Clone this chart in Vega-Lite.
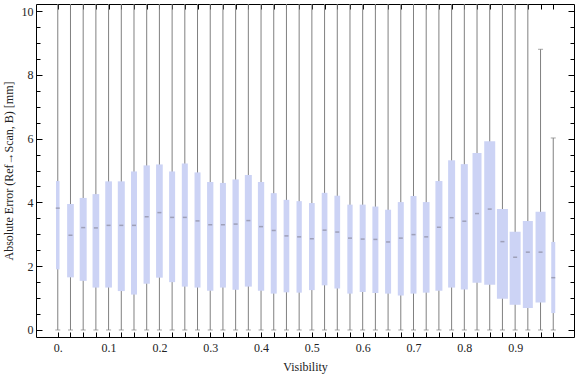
{
  "$schema": "https://vega.github.io/schema/vega-lite/v6.json",
  "width": 538,
  "height": 333,
  "autosize": {"type": "none"},
  "padding": {"left": 36, "top": 4, "right": 2, "bottom": 40},
  "config": {
    "view": {"stroke": "black", "strokeWidth": 1},
    "axis": {
      "domain": false, "grid": false,
      "labelFont": "Liberation Serif", "titleFont": "Liberation Serif",
      "labelFontSize": 12, "titleFontSize": 12, "titleFontWeight": "normal",
      "labelColor": "#222222", "titleColor": "#222222", "tickColor": "black",
      "labelOverlap": false, "labelFlush": false
    }
  },
  "data": {"values": [
    {"v": 0.000, "q1": 1.90, "med": 3.82, "q3": 4.67, "lo": 0, "hi": 11, "n": 35},
    {"v": 0.025, "q1": 1.65, "med": 2.97, "q3": 3.95, "lo": 0, "hi": 11, "n": 67},
    {"v": 0.050, "q1": 1.54, "med": 3.21, "q3": 4.14, "lo": 0, "hi": 11, "n": 70},
    {"v": 0.075, "q1": 1.33, "med": 3.20, "q3": 4.26, "lo": 0, "hi": 11, "n": 67},
    {"v": 0.100, "q1": 1.33, "med": 3.28, "q3": 4.66, "lo": 0, "hi": 11, "n": 67},
    {"v": 0.125, "q1": 1.22, "med": 3.28, "q3": 4.66, "lo": 0, "hi": 11, "n": 70},
    {"v": 0.150, "q1": 1.11, "med": 3.28, "q3": 4.97, "lo": 0, "hi": 11, "n": 60},
    {"v": 0.175, "q1": 1.45, "med": 3.55, "q3": 5.16, "lo": 0, "hi": 11, "n": 63},
    {"v": 0.200, "q1": 1.64, "med": 3.68, "q3": 5.19, "lo": 0, "hi": 11, "n": 67},
    {"v": 0.225, "q1": 1.50, "med": 3.53, "q3": 4.97, "lo": 0, "hi": 11, "n": 60},
    {"v": 0.250, "q1": 1.36, "med": 3.53, "q3": 5.22, "lo": 0, "hi": 11, "n": 60},
    {"v": 0.275, "q1": 1.33, "med": 3.42, "q3": 4.94, "lo": 0, "hi": 11, "n": 60},
    {"v": 0.300, "q1": 1.23, "med": 3.30, "q3": 4.64, "lo": 0, "hi": 11, "n": 63},
    {"v": 0.325, "q1": 1.33, "med": 3.30, "q3": 4.61, "lo": 0, "hi": 11, "n": 60},
    {"v": 0.350, "q1": 1.26, "med": 3.32, "q3": 4.72, "lo": 0, "hi": 11, "n": 63},
    {"v": 0.375, "q1": 1.36, "med": 3.43, "q3": 4.86, "lo": 0, "hi": 11, "n": 70},
    {"v": 0.400, "q1": 1.23, "med": 3.24, "q3": 4.64, "lo": 0, "hi": 11, "n": 63},
    {"v": 0.425, "q1": 1.14, "med": 3.12, "q3": 4.29, "lo": 0, "hi": 11, "n": 60},
    {"v": 0.450, "q1": 1.18, "med": 2.95, "q3": 4.08, "lo": 0, "hi": 11, "n": 57},
    {"v": 0.475, "q1": 1.17, "med": 2.92, "q3": 4.04, "lo": 0, "hi": 11, "n": 53},
    {"v": 0.500, "q1": 1.25, "med": 2.86, "q3": 3.98, "lo": 0, "hi": 11, "n": 57},
    {"v": 0.525, "q1": 1.40, "med": 3.13, "q3": 4.30, "lo": 0, "hi": 11, "n": 57},
    {"v": 0.550, "q1": 1.30, "med": 3.07, "q3": 4.21, "lo": 0, "hi": 11, "n": 57},
    {"v": 0.575, "q1": 1.14, "med": 2.88, "q3": 3.93, "lo": 0, "hi": 11, "n": 53},
    {"v": 0.600, "q1": 1.19, "med": 2.85, "q3": 3.93, "lo": 0, "hi": 11, "n": 60},
    {"v": 0.625, "q1": 1.16, "med": 2.84, "q3": 3.87, "lo": 0, "hi": 11, "n": 60},
    {"v": 0.650, "q1": 1.14, "med": 2.76, "q3": 3.77, "lo": 0, "hi": 11, "n": 60},
    {"v": 0.675, "q1": 1.08, "med": 2.88, "q3": 4.01, "lo": 0, "hi": 11, "n": 60},
    {"v": 0.700, "q1": 1.14, "med": 2.99, "q3": 4.20, "lo": 0, "hi": 11, "n": 60},
    {"v": 0.725, "q1": 1.17, "med": 2.92, "q3": 4.01, "lo": 0, "hi": 11, "n": 67},
    {"v": 0.750, "q1": 1.23, "med": 3.22, "q3": 4.67, "lo": 0, "hi": 11, "n": 70},
    {"v": 0.775, "q1": 1.33, "med": 3.52, "q3": 5.32, "lo": 0, "hi": 11, "n": 70},
    {"v": 0.800, "q1": 1.27, "med": 3.41, "q3": 5.20, "lo": 0, "hi": 11, "n": 70},
    {"v": 0.825, "q1": 1.48, "med": 3.65, "q3": 5.55, "lo": 0, "hi": 11, "n": 90},
    {"v": 0.850, "q1": 1.42, "med": 3.79, "q3": 5.92, "lo": 0, "hi": 11, "n": 110},
    {"v": 0.875, "q1": 0.98, "med": 2.77, "q3": 3.79, "lo": 0, "hi": 11, "n": 110},
    {"v": 0.900, "q1": 0.79, "med": 2.28, "q3": 3.08, "lo": 0, "hi": 11, "n": 110},
    {"v": 0.925, "q1": 0.69, "med": 2.44, "q3": 3.42, "lo": 0, "hi": 11, "n": 100},
    {"v": 0.950, "q1": 0.86, "med": 2.44, "q3": 3.71, "lo": 0, "hi": 8.8, "n": 100},
    {"v": 0.975, "q1": 0.53, "med": 1.64, "q3": 2.76, "lo": 0, "hi": 6.02, "n": 40}
  ]},
  "layer": [
    {
      "mark": {"type": "rule", "color": "#808080", "strokeWidth": 1, "clip": true},
      "encoding": {
        "x": {"field": "v", "type": "quantitative",
          "scale": {"domain": [-0.033, 1.006], "nice": false, "zero": false},
          "axis": {"orient": "bottom", "title": "Visibility", "tickSize": -5, "labelPadding": 10, "titlePadding": 8,
            "values": [0,0.025,0.05,0.075,0.1,0.125,0.15,0.175,0.2,0.225,0.25,0.275,0.3,0.325,0.35,0.375,0.4,0.425,0.45,0.475,0.5,0.525,0.55,0.575,0.6,0.625,0.65,0.675,0.7,0.725,0.75,0.775,0.8,0.825,0.85,0.875,0.9,0.925,0.95,0.975],
            "labelExpr": "abs(datum.value*10 - round(datum.value*10)) < 0.001 ? (datum.value == 0 ? '0.' : format(datum.value, '.1f')) : ''"}},
        "y": {"field": "lo", "type": "quantitative",
          "scale": {"domain": [-0.22, 10.22], "nice": false, "zero": false},
          "axis": {"orient": "left", "title": "Absolute Error (Ref→Scan, B) [mm]", "labelPadding": 9, "titlePadding": 6,
            "tickSize": {"condition": {"test": "datum.value % 2 == 0", "value": -6}, "value": -4},
            "values": [0,0.5,1,1.5,2,2.5,3,3.5,4,4.5,5,5.5,6,6.5,7,7.5,8,8.5,9,9.5,10],
            "labelExpr": "datum.value % 2 == 0 ? format(datum.value, 'd') : ''"}},
        "y2": {"field": "hi"}
      }
    },
    {
      "mark": {"type": "bar", "orient": "vertical", "color": "#ccd3f5"},
      "encoding": {
        "x": {"field": "v", "type": "quantitative",
          "axis": {"orient": "top", "title": null, "labels": false, "tickSize": -5,
            "values": [0,0.025,0.05,0.075,0.1,0.125,0.15,0.175,0.2,0.225,0.25,0.275,0.3,0.325,0.35,0.375,0.4,0.425,0.45,0.475,0.5,0.525,0.55,0.575,0.6,0.625,0.65,0.675,0.7,0.725,0.75,0.775,0.8,0.825,0.85,0.875,0.9,0.925,0.95,0.975]}},
        "y": {"field": "q1", "type": "quantitative",
          "axis": {"orient": "right", "title": null, "labels": false,
            "tickSize": {"condition": {"test": "datum.value % 2 == 0", "value": -6}, "value": -4},
            "values": [0,0.5,1,1.5,2,2.5,3,3.5,4,4.5,5,5.5,6,6.5,7,7.5,8,8.5,9,9.5,10]}},
        "y2": {"field": "q3"},
        "size": {"field": "n", "type": "quantitative", "scale": {"domain": [0, 100], "range": [0, 10]}, "legend": null}
      }
    },
    {
      "mark": {"type": "tick", "orient": "horizontal", "size": 5, "thickness": 1, "color": "#808080"},
      "encoding": {
        "x": {"field": "v", "type": "quantitative", "axis": null},
        "y": {"field": "lo", "type": "quantitative", "axis": null}
      }
    },
    {
      "mark": {"type": "tick", "orient": "horizontal", "size": 5, "thickness": 1, "color": "#808080", "clip": true},
      "encoding": {
        "x": {"field": "v", "type": "quantitative", "axis": null},
        "y": {"field": "hi", "type": "quantitative", "axis": null}
      }
    },
    {
      "mark": {"type": "tick", "orient": "horizontal", "size": 4, "thickness": 1.5, "color": "#8a8a9e"},
      "encoding": {
        "x": {"field": "v", "type": "quantitative", "axis": null},
        "y": {"field": "med", "type": "quantitative", "axis": null}
      }
    }
  ],
  "resolve": {"axis": {"x": "independent", "y": "independent"}}
}
